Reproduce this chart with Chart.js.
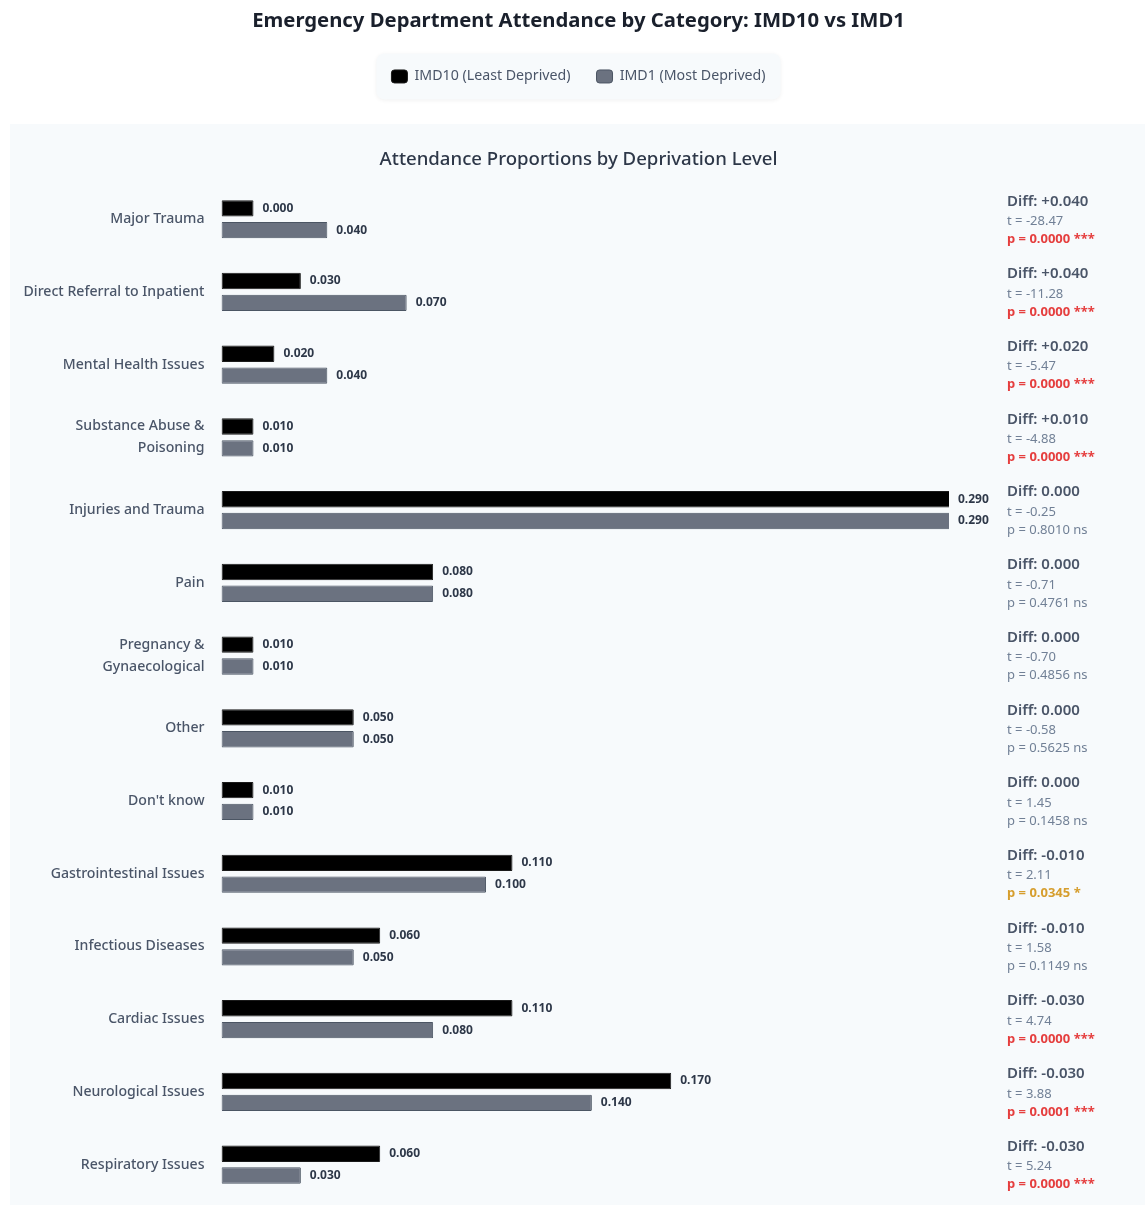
<!DOCTYPE html>
<html>
<head>
<meta charset="utf-8">
<script src="https://cdn.jsdelivr.net/npm/chart.js@4.4.1/dist/chart.umd.min.js"></script>
<style>
html, body { margin: 0; padding: 0; background: #ffffff; }
#wrap { width: 1145px; height: 1205px; position: relative; }
canvas { display: block; }
</style>
</head>
<body>
<div id="wrap"><canvas id="chart" width="1145" height="1205"></canvas></div>
<script>
// ---- Data ----
const categories = [
  'Major Trauma',
  'Direct Referral to Inpatient',
  'Mental Health Issues',
  ['Substance Abuse &', 'Poisoning'],
  'Injuries and Trauma',
  'Pain',
  ['Pregnancy &', 'Gynaecological'],
  'Other',
  "Don't know",
  'Gastrointestinal Issues',
  'Infectious Diseases',
  'Cardiac Issues',
  'Neurological Issues',
  'Respiratory Issues'
];
const imd10Values = [0.000, 0.030, 0.020, 0.010, 0.290, 0.080, 0.010, 0.050, 0.010, 0.110, 0.060, 0.110, 0.170, 0.060];
const imd1Values  = [0.040, 0.070, 0.040, 0.010, 0.290, 0.080, 0.010, 0.050, 0.010, 0.100, 0.050, 0.080, 0.140, 0.030];
const diffValues  = [0.040, 0.040, 0.020, 0.010, 0.000, 0.000, 0.000, 0.000, 0.000, -0.010, -0.010, -0.030, -0.030, -0.030];
const tValues     = [-28.47, -11.28, -5.47, -4.88, -0.25, -0.71, -0.70, -0.58, 1.45, 2.11, 1.58, 4.74, 3.88, 5.24];
const pValues     = [0.0000, 0.0000, 0.0000, 0.0000, 0.8010, 0.4761, 0.4856, 0.5625, 0.1458, 0.0345, 0.1149, 0.0000, 0.0001, 0.0000];
const seriesNames = ['IMD10 (Least Deprived)', 'IMD1 (Most Deprived)'];

const FONT = "'Noto Sans', 'Open Sans', sans-serif";

function sigMark(p) {
  if (p < 0.001) return '***';
  if (p < 0.01) return '**';
  if (p < 0.05) return '*';
  return 'ns';
}
function sigColor(p) {
  if (p < 0.001) return '#e53e3e';
  if (p < 0.05) return '#d69e2e';
  return '#718096';
}
function fmtDiff(d) {
  if (d > 0) return '+' + d.toFixed(3);
  if (d === 0) return '0.000';
  return d.toFixed(3);
}

// ---- Plugins ----
const backgroundPlugin = {
  id: 'bgPanels',
  beforeDraw(chart) {
    const ctx = chart.ctx;
    ctx.save();
    ctx.fillStyle = '#ffffff';
    ctx.fillRect(0, 0, chart.width, chart.height);
    // chart panel
    ctx.fillStyle = '#f7fafc';
    ctx.fillRect(10, 124, chart.width - 10, chart.height - 124);
    // legend box
    const lg = chart.legend;
    if (lg && lg.legendHitBoxes && lg.legendHitBoxes.length) {
      const hb = lg.legendHitBoxes;
      const left = hb[0].left - 15;
      const right = hb[hb.length - 1].left + hb[hb.length - 1].width + 15;
      const cy = hb[0].top + hb[0].height / 2;
      ctx.shadowColor = 'rgba(0,0,0,0.06)';
      ctx.shadowBlur = 4;
      ctx.shadowOffsetY = 1;
      ctx.fillStyle = '#f7fafc';
      ctx.beginPath();
      ctx.roundRect(left, cy - 23, right - left, 46, 8);
      ctx.fill();
    }
    ctx.restore();
  }
};

const valueLabelPlugin = {
  id: 'valueLabels',
  afterDatasetsDraw(chart) {
    const ctx = chart.ctx;
    const area = chart.chartArea;
    ctx.save();
    ctx.font = 'bold 12px ' + FONT;
    ctx.fillStyle = '#2d3748';
    ctx.textAlign = 'left';
    ctx.textBaseline = 'middle';
    chart.data.datasets.forEach((ds, di) => {
      const meta = chart.getDatasetMeta(di);
      meta.data.forEach((bar, i) => {
        const x = Math.min(bar.x, area.right) + 9;
        ctx.fillText(ds.data[i].toFixed(3), x, bar.y);
      });
    });
    ctx.restore();
  }
};

const statsPlugin = {
  id: 'statsText',
  afterDraw(chart) {
    const ctx = chart.ctx;
    const yScale = chart.scales.y;
    const x = chart.chartArea.right + 58;
    ctx.save();
    ctx.textAlign = 'left';
    ctx.textBaseline = 'middle';
    categories.forEach((c, i) => {
      const y = yScale.getPixelForValue(i);
      ctx.font = '600 15px ' + FONT;
      ctx.fillStyle = '#4a5568';
      ctx.fillText('Diff: ' + fmtDiff(diffValues[i]), x, y - 18);
      ctx.font = '13px ' + FONT;
      ctx.fillStyle = '#718096';
      ctx.fillText('t = ' + tValues[i].toFixed(2), x, y + 2);
      const p = pValues[i];
      const sig = p < 0.05;
      ctx.font = (sig ? 'bold ' : '') + '13px ' + FONT;
      ctx.fillStyle = sigColor(p);
      ctx.fillText('p = ' + p.toFixed(4) + ' ' + sigMark(p), x, y + 20);
    });
    ctx.restore();
  }
};

// ---- Chart ----
new Chart(document.getElementById('chart'), {
  type: 'bar',
  data: {
    labels: categories,
    datasets: [
      {
        label: seriesNames[0],
        data: imd10Values,
        backgroundColor: '#000000',
        borderColor: '#1a1a1a',
        borderWidth: 1,
        borderRadius: 1,
        borderSkipped: false,
        minBarLength: 32,
        clip: 0,
        categoryPercentage: 0.6,
        barPercentage: 0.75
      },
      {
        label: seriesNames[1],
        data: imd1Values,
        backgroundColor: '#6b7280',
        borderColor: '#4b5563',
        borderWidth: 1,
        borderRadius: 1,
        borderSkipped: false,
        minBarLength: 32,
        clip: 0,
        categoryPercentage: 0.6,
        barPercentage: 0.75
      }
    ]
  },
  options: {
    indexAxis: 'y',
    responsive: false,
    animation: false,
    devicePixelRatio: 1,
    layout: { padding: { top: 0, left: 12, right: 0, bottom: 4 } },
    scales: {
      x: {
        display: false,
        min: 0,
        max: 0.275
      },
      y: {
        grid: { display: false, drawTicks: false },
        border: { display: false },
        ticks: {
          padding: 17,
          color: '#4a5568',
          font: { family: FONT, size: 14.1, weight: '500', lineHeight: 1.55 }
        },
        afterFit(scale) {
          scale.width = 209.5;
          scale.paddingTop = 0;
          scale.paddingBottom = 0;
        }
      },
      yRight: {
        type: 'linear',
        position: 'right',
        display: true,
        grid: { display: false, drawTicks: false },
        border: { display: false },
        ticks: { display: false },
        afterFit(scale) {
          scale.width = 196;
          scale.paddingTop = 0;
          scale.paddingBottom = 0;
        }
      }
    },
    plugins: {
      title: {
        display: true,
        text: 'Emergency Department Attendance by Category: IMD10 vs IMD1',
        color: '#1a202c',
        font: { family: FONT, size: 20.3, weight: 'bold', lineHeight: 1.2 },
        padding: { top: 9, bottom: 10 }
      },
      legend: {
        display: true,
        position: 'top',
        weight: 1800,
        labels: {
          color: '#4a5568',
          font: { family: FONT, size: 14.2 },
          boxWidth: 16,
          boxHeight: 13,
          useBorderRadius: true,
          borderRadius: 3,
          padding: 26
        }
      },
      subtitle: {
        display: true,
        text: 'Attendance Proportions by Deprivation Level',
        color: '#2d3748',
        font: { family: FONT, size: 18.6, weight: '500', lineHeight: 1.2 },
        padding: { top: 55, bottom: 12 }
      },
      tooltip: { enabled: false }
    }
  },
  plugins: [backgroundPlugin, valueLabelPlugin, statsPlugin]
});
</script>
</body>
</html>
